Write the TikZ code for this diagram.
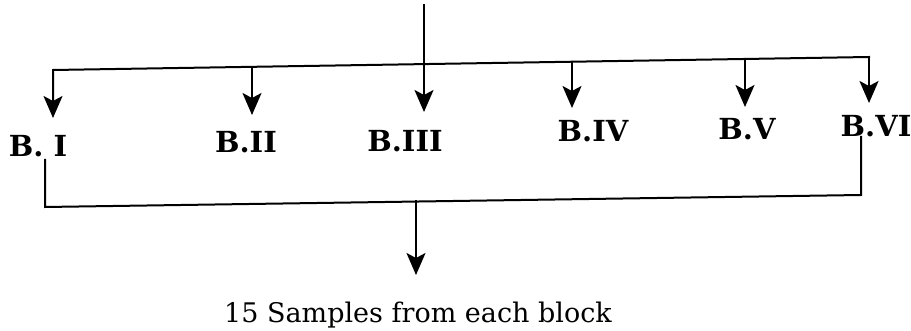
\documentclass[tikz,border=0pt]{standalone}
\usepackage{fontspec}
\setmainfont{DejaVu Serif}
\usetikzlibrary{arrows.meta}
\begin{document}
\begin{tikzpicture}[x=1pt,y=-1pt,
  conn/.style={line width=2pt, line cap=rect, line join=miter},
  arr/.style={conn,-{Stealth[length=22pt,width=19pt,inset=5pt]}},
  blk/.style={font=\fontsize{29}{32}\selectfont\bfseries, inner sep=0pt, anchor=base},
  lbl/.style={font=\fontsize{27}{30}\selectfont, inner sep=0pt, anchor=base}]
\useasboundingbox (0,0) rectangle (911,331);
% source and distribution line
\coordinate (src) at (424,5);
\coordinate (h1) at (53,70);
\coordinate (h6) at (869,57);
\coordinate (j2) at (252,66.8);
\coordinate (j4) at (572,61.7);
\coordinate (j5) at (745,59);
% arrow tips
\coordinate (t1) at (53,118);
\coordinate (t2) at (252,115);
\coordinate (t3) at (424,112);
\coordinate (t4) at (572,108);
\coordinate (t5) at (745,107);
\coordinate (t6) at (869,103);
% block labels
\node[blk] (b1) at (38,157) {B. I};
\node[blk] (b2) at (246,153) {B.II};
\node[blk] (b3) at (405,152) {B.III};
\node[blk] (b4) at (593,142) {B.IV};
\node[blk] (b5) at (747,140) {B.V};
\node[blk] (b6) at (876,137) {B.VI};
% collection line
\coordinate (l1) at (45,160);
\coordinate (l2) at (45,207);
\coordinate (r1) at (861,137);
\coordinate (r2) at (861,195);
\coordinate (bj) at (416,201.5);
\coordinate (btip) at (416,275);
\node[lbl] (out) at (418,323) {15 Samples from each block};
% connectors
\draw[arr] (h6) -- (h1) -- (t1);
\draw[arr] (h6) -- (t6);
\draw[arr] (src) -- (t3);
\draw[arr] (j2) -- (t2);
\draw[arr] (j4) -- (t4);
\draw[arr] (j5) -- (t5);
\draw[conn] (l1) -- (l2) -- (r2) -- (r1);
\draw[arr] (bj) -- (btip);
\end{tikzpicture}
\end{document}
